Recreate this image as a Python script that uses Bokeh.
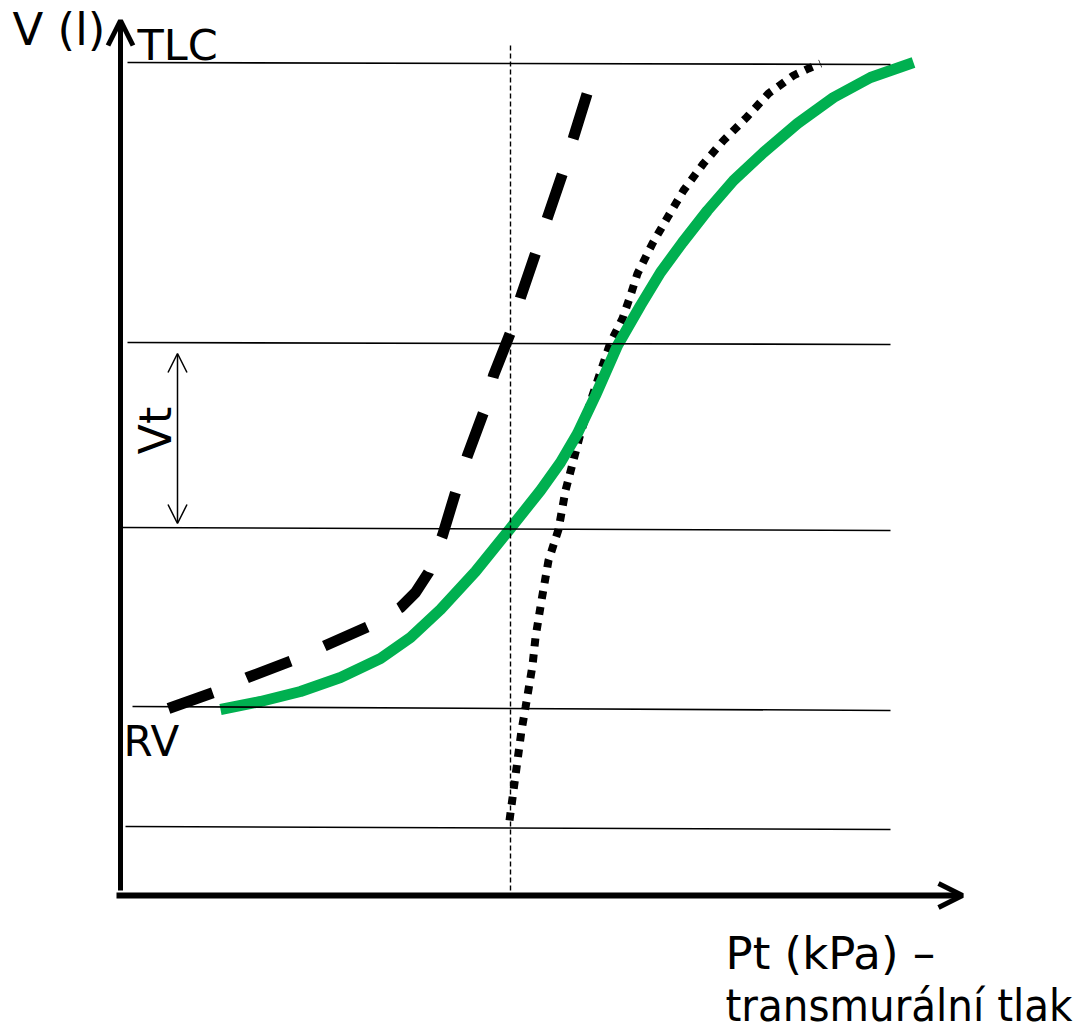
import math
from bokeh.plotting import figure
from bokeh.models import Range1d, Arrow, OpenHead
from bokeh.core.properties import value
from bokeh.embed import file_html
from bokeh.resources import INLINE

# ---- data (pressure units on x, volume units on y; schematic) ----
green_p = [100, 140, 180, 220, 260, 290, 320, 355, 389, 420, 440, 457, 475, 497, 520, 540, 562, 587, 613, 643, 677, 713, 750, 793]
green_v = [186, 194, 204, 218, 237, 258, 286, 324, 366, 405, 433, 462, 500, 550, 590, 623, 653, 685, 715, 743, 772, 798, 818, 833]

dash_p = [48, 93, 127, 172, 205, 250, 280, 295, 308, 322, 335, 347, 363, 373, 390, 400, 415, 427, 442, 453, 467]
dash_v = [187, 203, 218, 235, 250, 270, 288, 303, 323, 360, 403, 440, 483, 520, 563, 598, 642, 678, 722, 758, 803]

dot_p = [389, 393, 397, 401, 405, 412, 415, 421, 428, 438, 445, 460, 472, 490, 502, 510, 517, 532, 547, 563, 583, 603, 626, 648, 673, 688, 700]
dot_v = [75, 105, 135, 165, 188, 230, 258, 295, 335, 366, 405, 462, 500, 553, 577, 600, 622, 652, 678, 705, 732, 755, 778, 802, 820, 827, 832]

# horizontal reference levels (TLC, upper Vt, lower Vt, RV, bottom)
level_p0 = [7, 7, 2, 12, 5]
level_v0 = [833, 553, 368, 189, 69]
level_p1 = [770, 770, 770, 770, 770]
level_v1 = [831, 551, 365, 185, 66]

# vertical reference (zero transmural pressure)
zero_p = [390, 390]
zero_v = [850, 2]

# axes
axis_x = [-4, 842]      # x axis start/end pressure
axis_y = [5, 875]       # y axis start/end volume

# Vt arrow
vt_p = 57
vt_v = [542, 372]

labels = ["V (l)", "TLC", "RV", "Pt (kPa) \u2013", "transmur\u00e1ln\u00ed tlak"]
label_p = [-108, 17, 3, 605, 605]
label_v = [866, 851, 154, -58, -110]
label_sizes = ["45px", "43px", "42px", "45px", "45px"]
label_fonts = ["DejaVu Sans", "DejaVu Sans", "DejaVu Sans", "DejaVu Sans", "DejaVu Sans Condensed"]

p = figure(width=1091, height=1032, x_range=Range1d(-120, 971), y_range=Range1d(-137, 895),
           output_backend="svg", toolbar_location=None, min_border=0)
p.axis.visible = False
p.grid.visible = False
p.outline_line_color = None
p.background_fill_color = "white"
p.border_fill_color = "white"

# curves
p.line(dot_p, dot_v, line_color="black", line_width=8, line_dash="8 8", line_cap="butt")
p.line(dash_p, dash_v, line_color="black", line_width=11, line_dash="47 37", line_cap="butt")
p.line(green_p, green_v, line_color="#00B050", line_width=11, line_join="round")

# thin reference lines
p.segment(level_p0, level_v0, level_p1, level_v1, line_color="black", line_width=1.6)
p.line(zero_p, zero_v, line_color="black", line_width=1.4, line_dash="5 3")

# axes with arrows
p.add_layout(Arrow(end=OpenHead(size=24, line_width=5, line_color="black"),
                   x_start=axis_x[0], y_start=0, x_end=axis_x[1], y_end=0,
                   line_width=6, line_color="black"))
p.add_layout(Arrow(end=OpenHead(size=25, line_width=5, line_color="black"),
                   x_start=0, y_start=axis_y[0], x_end=0, y_end=axis_y[1],
                   line_width=5, line_color="black"))
# Vt double arrow
p.add_layout(Arrow(start=OpenHead(size=19, line_width=1.5, line_color="black"),
                   end=OpenHead(size=19, line_width=1.5, line_color="black"),
                   x_start=vt_p, y_start=vt_v[0], x_end=vt_p, y_end=vt_v[1],
                   line_width=1.5, line_color="black"))

# labels
for t, x, y, s, f in zip(labels, label_p, label_v, label_sizes, label_fonts):
    p.text(x=[x], y=[y], text=[t], text_font=value(f), text_font_size=value(s),
           text_align="left", text_baseline="alphabetic", text_color="black")

p.text(x=[35], y=[465], text=["Vt"], angle=math.pi / 2, text_font=value("DejaVu Sans"),
       text_font_size=value("44px"), text_align="center", text_baseline="middle",
       text_color="black")

open("out.html", "w").write(file_html(p, INLINE))
